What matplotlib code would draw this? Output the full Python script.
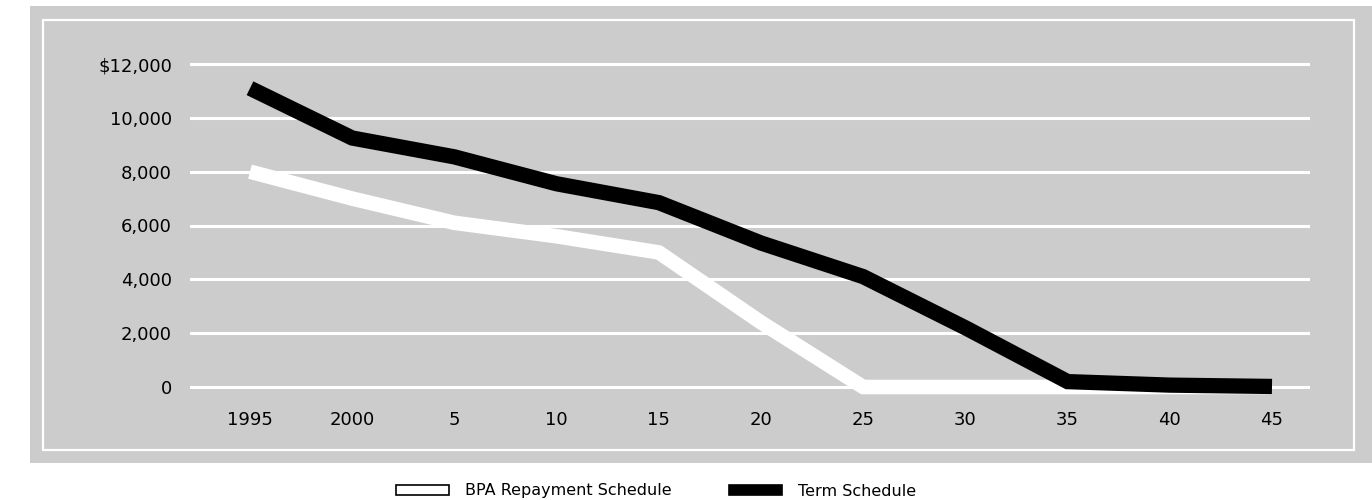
import matplotlib
matplotlib.use("Agg")
import matplotlib.pyplot as plt
from matplotlib.patches import Rectangle, Patch

years = [1995, 2000, 2005, 2010, 2015, 2020, 2025, 2030, 2035, 2040, 2045]
year_labels = ["1995", "2000", "5", "10", "15", "20", "25", "30", "35", "40", "45"]
bpa_schedule = [8000, 7000, 6100, 5600, 5000, 2400, 0, 0, 0, 0, 0]
term_schedule = [11100, 9250, 8550, 7550, 6850, 5350, 4100, 2200, 200, 70, 20]
y_ticks = [0, 2000, 4000, 6000, 8000, 10000, 12000]
y_labels = ["0", "2,000", "4,000", "6,000", "8,000", "10,000", "$12,000"]

W, H = 1372, 500
GRAY = "#cccccc"
plt.rcParams["font.family"] = ["DejaVu Sans"]

fig = plt.figure(figsize=(W / 100, H / 100), dpi=100)
fig.patch.set_facecolor("white")


def fx(x):
    return x / W


def fy(y):
    return 1 - y / H


# panel background and inset frame
fig.patches.append(Rectangle((fx(30), fy(463)), fx(1372) - fx(30), fy(6) - fy(463),
                             transform=fig.transFigure, facecolor=GRAY,
                             edgecolor="none", zorder=-2))
fig.patches.append(Rectangle((fx(43), fy(450)), fx(1354) - fx(43), fy(20) - fy(450),
                             transform=fig.transFigure, facecolor="none",
                             edgecolor="white", linewidth=1.6, zorder=-1))

ax = fig.add_axes([fx(190), fy(400), fx(1310) - fx(190), fy(40) - fy(400)])
ax.set_zorder(2)
ax.set_facecolor("none")
for s in ax.spines.values():
    s.set_visible(False)

px_per_year = (1272 - 250) / 50
ax.set_xlim(1995 - 60 / px_per_year, 2045 + 38 / px_per_year)
px_per_unit = (387 - 64) / 12000
ax.set_ylim(-13 / px_per_unit, 12000 + 24 / px_per_unit)

ax.set_yticks(y_ticks)
ax.set_yticklabels(y_labels)
ax.set_xticks(years)
ax.set_xticklabels(year_labels)
ax.tick_params(axis="y", length=0, pad=13, labelsize=13, colors="black")
ax.tick_params(axis="x", length=0, pad=8, labelsize=13, colors="black")
ax.yaxis.grid(True, color="white", linewidth=2.2)
ax.xaxis.grid(False)
ax.set_axisbelow(True)

ax.plot(years, bpa_schedule, color="white", linewidth=10.5,
        solid_capstyle="butt", solid_joinstyle="miter", clip_on=False, zorder=3)
ax.plot(years, term_schedule, color="black", linewidth=11,
        solid_capstyle="butt", solid_joinstyle="miter", clip_on=False, zorder=4)

handles = [Patch(facecolor="white", edgecolor="black", linewidth=1.2),
           Patch(facecolor="black", edgecolor="black", linewidth=1.2)]
fig.legend(handles, ["BPA Repayment Schedule", "Term Schedule"],
           loc="center", bbox_to_anchor=(fx(656), fy(491)), ncol=2,
           frameon=False, fontsize=11.5, handlelength=3.3, handleheight=0.55,
           handletextpad=1.0, columnspacing=3.6, borderpad=0, borderaxespad=0)

fig.savefig("out.png", dpi=100, facecolor="white")
